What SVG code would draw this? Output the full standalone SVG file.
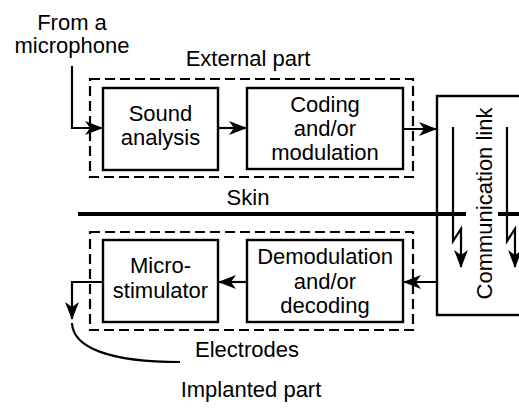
<svg xmlns="http://www.w3.org/2000/svg" width="519" height="409" viewBox="0 0 519 409">
<style>
text{font-family:"Liberation Sans",Arial,sans-serif;font-size:22px;fill:#000;text-anchor:middle}
.box{fill:#fff;stroke:#000;stroke-width:2.4}
.dash{fill:none;stroke:#000;stroke-width:2.2;stroke-dasharray:10 5}
.ln{fill:none;stroke:#000;stroke-width:2.2}
.arr{marker-end:url(#ah)}
</style>
<defs>
<marker id="ah" markerUnits="userSpaceOnUse" markerWidth="20" markerHeight="20" viewBox="-18 -10 20 20" refX="0" refY="0" orient="auto" overflow="visible">
<path d="M1,0 L-17,-7 L-12,0 L-17,7 Z" fill="#000"/>
</marker>
</defs>
<g id="external-part">
<rect class="dash" x="90" y="79" width="323" height="98"/>
<text x="248" y="66">External part</text>
</g>
<g id="implanted-part">
<rect class="dash" x="90" y="232" width="323" height="98"/>
<text x="251" y="397">Implanted part</text>
</g>
<g id="input-label">
<text x="72" y="30">From a</text>
<text x="72" y="53">microphone</text>
</g>
<g id="sound-analysis">
<rect class="box" x="103" y="88" width="115" height="82"/>
<text x="160.5" y="121">Sound</text>
<text x="160.5" y="145">analysis</text>
</g>
<g id="coding">
<rect class="box" x="247" y="88" width="156" height="81"/>
<text x="325" y="112">Coding</text>
<text x="325" y="136">and/or</text>
<text x="325" y="160">modulation</text>
</g>
<g id="microstimulator">
<rect class="box" x="103" y="240" width="115" height="82"/>
<text x="160.5" y="273">Micro-</text>
<text x="160.5" y="298">stimulator</text>
</g>
<g id="demodulation">
<rect class="box" x="247" y="240" width="156" height="82"/>
<text x="325" y="264">Demodulation</text>
<text x="325" y="289">and/or</text>
<text x="325" y="313">decoding</text>
</g>
<g id="communication-link">
<rect class="box" x="437" y="96" width="100" height="219"/>
<text transform="translate(492,203.5) rotate(-90)">Communication link</text>
</g>
<g id="skin">
<line x1="78" y1="214" x2="466" y2="214" stroke="#000" stroke-width="4"/>
<line x1="498" y1="214" x2="519" y2="214" stroke="#000" stroke-width="4"/>
<text x="248" y="205">Skin</text>
</g>
<g id="electrodes">
<path class="ln" d="M72,323 C73,348 110,362 180,362"/>
<text x="247" y="357">Electrodes</text>
</g>
<g id="connectors">
<path class="ln arr" d="M72,66 V128 H102"/>
<path class="ln arr" d="M218,128 H246"/>
<path class="ln arr" d="M403,129 H436"/>
<path class="ln arr" d="M437,282 H404"/>
<path class="ln arr" d="M247,282 H219"/>
<path class="ln arr" d="M103,282 H72 V319"/>
<path class="ln arr" d="M453,127 V241 L461,229 V267"/>
<path class="ln arr" d="M507,127 V241 L515,229 V267"/>
</g>
</svg>
